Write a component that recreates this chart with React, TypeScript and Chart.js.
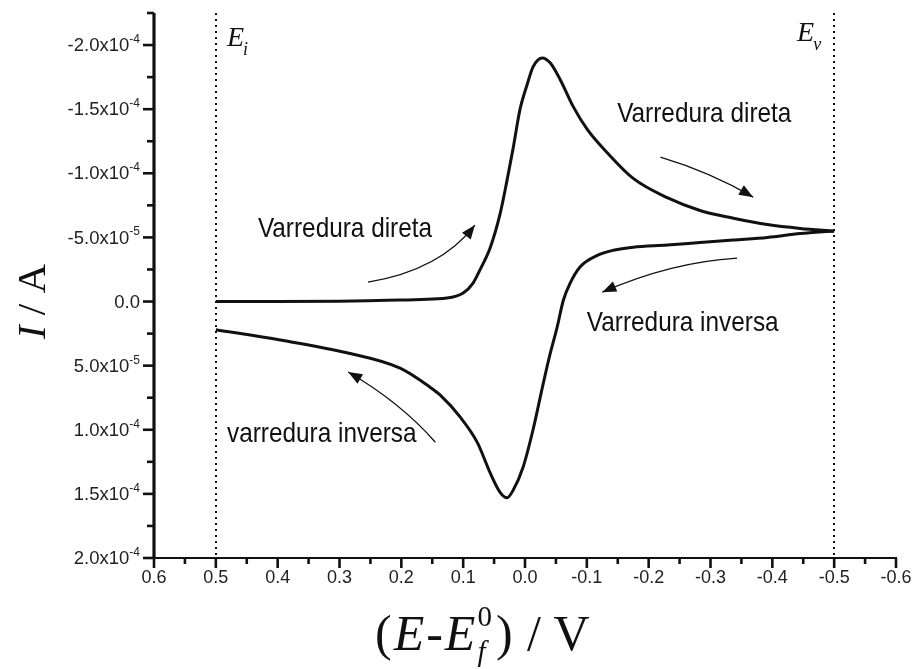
import { useEffect, useRef } from "react";
import { Chart, registerables } from "chart.js";

Chart.register(...registerables);

const SANS = "'Liberation Sans', Arial, sans-serif";
const SERIF = "'Liberation Serif', 'Times New Roman', serif";
const INK = "#111111";

// Forward sweep, from E_i = +0.5 V towards E_v = -0.5 V
const forwardPotential = [
  0.5, 0.4, 0.3, 0.223, 0.126, 0.1, 0.084, 0.073, 0.056, 0.04, 0.029, 0.019, 0.008,
  -0.004, -0.013, -0.028, -0.041, -0.057, -0.078, -0.101, -0.133, -0.175, -0.23,
  -0.283, -0.337, -0.392, -0.445, -0.5,
];
const forwardCurrent = [
  0, 0, -0.3e-6, -1e-6, -2.7e-6, -6.6e-6, -1.44e-5, -2.45e-5, -4.24e-5, -6.9e-5,
  -9.47e-5, -1.2e-4, -1.5e-4, -1.7e-4, -1.83e-4, -1.9e-4, -1.86e-4, -1.73e-4,
  -1.52e-4, -1.34e-4, -1.16e-4, -9.6e-5, -8.1e-5, -7.1e-5, -6.5e-5, -6.0e-5,
  -5.7e-5, -5.5e-5,
];

// Reverse sweep, from E_v back to E_i
const reversePotential = [
  -0.5, -0.445, -0.392, -0.337, -0.283, -0.23, -0.175, -0.143, -0.117, -0.089,
  -0.073, -0.062, -0.052, -0.04, -0.029, -0.013, 0.003, 0.019, 0.029, 0.04, 0.056,
  0.077, 0.105, 0.137, 0.153, 0.202, 0.288, 0.396, 0.5,
];
const reverseCurrent = [
  -5.5e-5, -5.3e-5, -5.0e-5, -4.8e-5, -4.6e-5, -4.4e-5, -4.24e-5, -4.0e-5, -3.6e-5,
  -2.7e-5, -1.44e-5, -1e-6, 2.0e-5, 4.2e-5, 6.5e-5, 1.0e-4, 1.29e-4, 1.47e-4,
  1.53e-4, 1.49e-4, 1.34e-4, 1.1e-4, 9.0e-5, 7.3e-5, 6.7e-5, 5.2e-5, 4.0e-5,
  3.0e-5, 2.2e-5,
];

const xTickValues = [0.6, 0.5, 0.4, 0.3, 0.2, 0.1, 0, -0.1, -0.2, -0.3, -0.4, -0.5, -0.6];
const xTickLabels = ["0.6", "0.5", "0.4", "0.3", "0.2", "0.1", "0.0", "-0.1", "-0.2", "-0.3", "-0.4", "-0.5", "-0.6"];

const yTickValues = [-2e-4, -1.5e-4, -1e-4, -5e-5, 0, 5e-5, 1e-4, 1.5e-4, 2e-4];
const yTickMantissa = ["-2.0x10", "-1.5x10", "-1.0x10", "-5.0x10", "0.0", "5.0x10", "1.0x10", "1.5x10", "2.0x10"];
const yTickExponent = ["-4", "-4", "-4", "-5", "", "-5", "-4", "-4", "-4"];

// Switching potentials: initial and vertex
const switchPotentials = [0.5, -0.5];
const switchNames = ["i", "v"];
const switchNameAnchor: [number, number][] = [
  [0.482, -1.99e-4],
  [-0.44, -2.03e-4],
];

// Sweep-direction notes and their arrows (potential, current)
const noteTexts = ["Varredura direta", "Varredura direta", "Varredura inversa", "varredura inversa"];
const noteAnchor: [number, number][] = [
  [-0.149, -1.4e-4],
  [0.432, -5.02e-5],
  [-0.1, 2.31e-5],
  [0.482, 1.097e-4],
];
const arrowStart: [number, number][] = [
  [-0.219, -1.126e-4],
  [0.254, -1.51e-5],
  [-0.343, -3.39e-5],
  [0.145, 1.097e-4],
];
const arrowBend: [number, number][] = [
  [-0.3, -1.009e-4],
  [0.137, -2.45e-5],
  [-0.235, -3.07e-5],
  [0.202, 7.85e-5],
];
const arrowEnd: [number, number][] = [
  [-0.369, -8.14e-5],
  [0.081, -5.96e-5],
  [-0.125, -7.3e-6],
  [0.286, 5.5e-5],
];

const cvDecor = {
  id: "cvDecor",
  beforeDatasetsDraw(chart: any) {
    const { ctx, chartArea: a } = chart;
    const xs = chart.scales.x;
    ctx.save();
    ctx.strokeStyle = INK;
    ctx.lineWidth = 2;
    ctx.setLineDash([2, 4]);
    for (const e of switchPotentials) {
      const px = Math.round(xs.getPixelForValue(e));
      ctx.beginPath();
      ctx.moveTo(px, a.top);
      ctx.lineTo(px, a.bottom);
      ctx.stroke();
    }
    ctx.restore();
  },
  afterDraw(chart: any) {
    const { ctx, chartArea: a } = chart;
    const xs = chart.scales.x;
    const ys = chart.scales.y;
    const P = (p: [number, number]) => ({ x: xs.getPixelForValue(p[0]), y: ys.getPixelForValue(p[1]) });
    ctx.save();
    ctx.strokeStyle = INK;
    ctx.fillStyle = INK;

    // axis lines
    ctx.lineWidth = 3.2;
    ctx.beginPath();
    ctx.moveTo(a.left, a.top);
    ctx.lineTo(a.left, a.bottom + 1);
    ctx.stroke();
    ctx.lineWidth = 2.2;
    ctx.beginPath();
    ctx.moveTo(a.left - 1.5, a.bottom);
    ctx.lineTo(a.right + 1, a.bottom);
    ctx.stroke();

    const near = (v: number, arr: number[], tol: number) => arr.some((t) => Math.abs(t - v) < tol);

    // x ticks (major + minor from the scale's tick list)
    const xTicks = (xs.ticks || []).map((t: any) => t.value);
    ctx.lineWidth = 2.6;
    for (const v of xTicks) {
      const major = near(v, xTickValues, 1e-6);
      const px = xs.getPixelForValue(v);
      ctx.beginPath();
      ctx.moveTo(px, a.bottom);
      ctx.lineTo(px, a.bottom + (major ? 10 : 6));
      ctx.stroke();
    }
    // y ticks
    const yTicks = (ys.ticks || []).map((t: any) => t.value);
    for (const v of yTicks) {
      const major = near(v, yTickValues, 1e-10);
      const py = ys.getPixelForValue(v);
      ctx.beginPath();
      ctx.moveTo(a.left, py);
      ctx.lineTo(a.left - (major ? 11 : 7), py);
      ctx.stroke();
    }

    // x tick labels
    ctx.fillStyle = "#222";
    ctx.font = `18px ${SANS}`;
    ctx.textAlign = "center";
    ctx.textBaseline = "middle";
    xTickValues.forEach((v, i) => {
      ctx.fillText(xTickLabels[i], xs.getPixelForValue(v), a.bottom + 20);
    });

    // y tick labels with superscript exponent
    ctx.textAlign = "left";
    yTickValues.forEach((v, i) => {
      const py = ys.getPixelForValue(v);
      ctx.font = `12px ${SANS}`;
      const ew = yTickExponent[i] ? ctx.measureText(yTickExponent[i]).width : 0;
      ctx.font = `18.5px ${SANS}`;
      const mw = ctx.measureText(yTickMantissa[i]).width;
      const right = a.left - 14;
      const x0 = right - ew - mw;
      ctx.textBaseline = "middle";
      ctx.fillText(yTickMantissa[i], x0, py + 1);
      if (yTickExponent[i]) {
        ctx.font = `12px ${SANS}`;
        ctx.textBaseline = "alphabetic";
        ctx.fillText(yTickExponent[i], x0 + mw, py - 2);
      }
    });

    ctx.fillStyle = INK;
    ctx.textBaseline = "alphabetic";

    // E_i / E_v labels
    switchNames.forEach((s, i) => {
      const p = P(switchNameAnchor[i]);
      ctx.font = `italic 28px ${SERIF}`;
      ctx.fillText("E", p.x, p.y);
      const w = ctx.measureText("E").width;
      ctx.font = `italic 18px ${SERIF}`;
      ctx.fillText(s, p.x + w - 1, p.y + 9);
    });

    // sweep notes
    ctx.font = `28px ${SANS}`;
    noteTexts.forEach((t, i) => {
      const p = P(noteAnchor[i]);
      ctx.save();
      ctx.translate(p.x, p.y);
      ctx.scale(0.87, 1);
      ctx.fillText(t, 0, 0);
      ctx.restore();
    });

    // arrows
    ctx.lineWidth = 1.3;
    for (let i = 0; i < arrowStart.length; i++) {
      const p0 = P(arrowStart[i]);
      const c = P(arrowBend[i]);
      const p1 = P(arrowEnd[i]);
      ctx.beginPath();
      ctx.moveTo(p0.x, p0.y);
      ctx.quadraticCurveTo(c.x, c.y, p1.x, p1.y);
      ctx.stroke();
      const ang = Math.atan2(p1.y - c.y, p1.x - c.x);
      const L = 14;
      const W = 5.5;
      const bx = p1.x - L * Math.cos(ang);
      const by = p1.y - L * Math.sin(ang);
      ctx.beginPath();
      ctx.moveTo(p1.x, p1.y);
      ctx.lineTo(bx + W * Math.sin(ang), by - W * Math.cos(ang));
      ctx.lineTo(bx - W * Math.sin(ang), by + W * Math.cos(ang));
      ctx.closePath();
      ctx.fill();
    }

    // x axis title: (E-E_f^0) / V
    {
      let x = a.left + 221;
      const base = a.bottom + 92;
      const gap = 2;
      const run = (t: string, font: string, dy = 0, adv = true) => {
        ctx.font = font;
        ctx.fillText(t, x, base + dy);
        const w = ctx.measureText(t).width;
        if (adv) x += w + gap;
        return w;
      };
      run("(", `50px ${SERIF}`);
      run("E", `italic 50px ${SERIF}`);
      run("-", `50px ${SERIF}`);
      run("E", `italic 50px ${SERIF}`);
      const wf = run("f", `italic 29px ${SERIF}`, 11, false);
      const w0 = run("0", `29px ${SERIF}`, -24, false);
      x += Math.max(wf, w0) + 4;
      run(")", `50px ${SERIF}`);
      run(" / V", `50px ${SERIF}`);
    }

    // y axis title: I / A
    {
      ctx.save();
      ctx.translate(45, (a.top + a.bottom) / 2 + 16);
      ctx.rotate(-Math.PI / 2);
      ctx.font = `italic 41px ${SERIF}`;
      const wi = ctx.measureText("I").width;
      ctx.font = `41px ${SERIF}`;
      const wr = ctx.measureText(" / A").width;
      const x0 = -(wi + wr) / 2;
      ctx.font = `italic 41px ${SERIF}`;
      ctx.fillText("I", x0, 0);
      ctx.font = `41px ${SERIF}`;
      ctx.fillText(" / A", x0 + wi, 0);
      ctx.restore();
    }

    ctx.restore();
  },
};

export default function App() {
  const ref = useRef<HTMLCanvasElement>(null);
  useEffect(() => {
    const canvas = ref.current;
    if (!canvas) return;
    const chart = new Chart(canvas, {
      type: "line",
      data: {
        datasets: [
          {
            data: forwardPotential.map((e, i) => ({ x: e, y: forwardCurrent[i] })),
            borderColor: INK,
            borderWidth: 3,
            pointRadius: 0,
            cubicInterpolationMode: "monotone",
            fill: false,
          },
          {
            data: reversePotential.map((e, i) => ({ x: e, y: reverseCurrent[i] })),
            borderColor: INK,
            borderWidth: 3,
            pointRadius: 0,
            cubicInterpolationMode: "monotone",
            fill: false,
          },
        ],
      },
      options: {
        responsive: false,
        animation: false,
        devicePixelRatio: 1,
        layout: { padding: { left: 154, right: 18, top: 13, bottom: 111 } },
        plugins: { legend: { display: false }, tooltip: { enabled: false } },
        scales: {
          x: { type: "linear", min: -0.6, max: 0.6, reverse: true, display: false, ticks: { stepSize: 0.05 } },
          y: { type: "linear", min: -2.25e-4, max: 2e-4, reverse: true, display: false, ticks: { stepSize: 2.5e-5 } },
        },
      },
      plugins: [cvDecor],
    });
    return () => chart.destroy();
  }, []);
  return (
    <div style={{ position: "fixed", left: 0, top: 0, width: 914, height: 669, background: "#fff" }}>
      <canvas ref={ref} width={914} height={669} style={{ display: "block", width: 914, height: 669 }} />
    </div>
  );
}
